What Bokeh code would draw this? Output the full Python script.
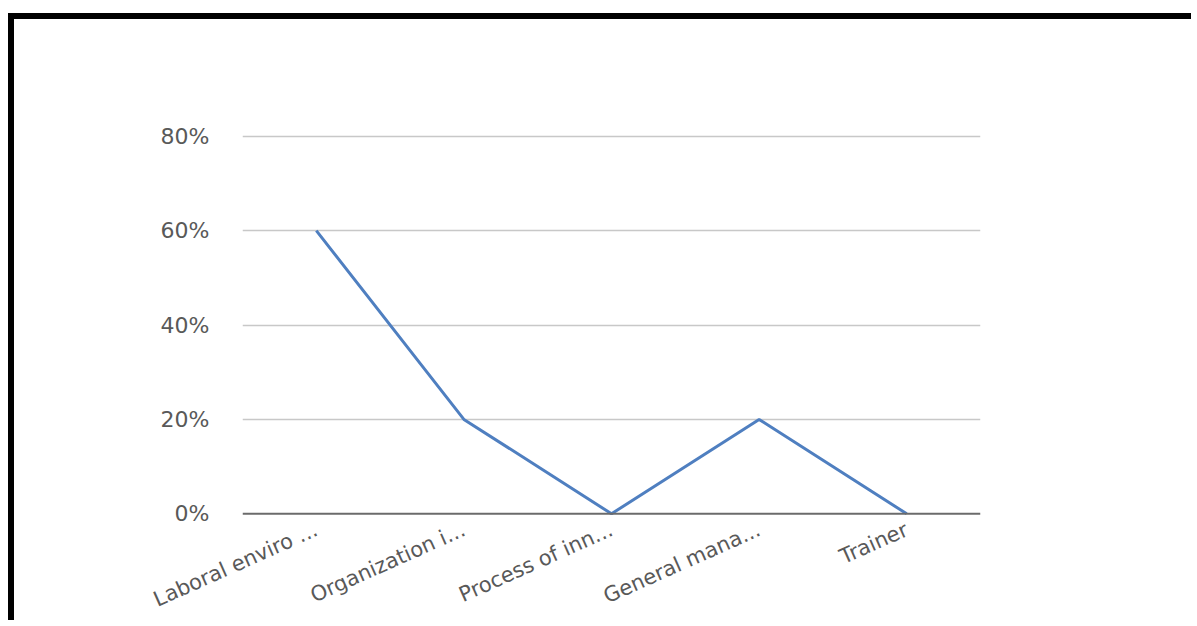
import math
from bokeh.plotting import figure
from bokeh.models import FactorRange, Range1d, NumeralTickFormatter, FixedTicker, Span
from bokeh.embed import file_html
from bokeh.resources import INLINE

categories = ["Laboral enviro ...", "Organization i...", "Process of inn...", "General mana...", "Trainer"]
values = [0.60, 0.20, 0.0, 0.20, 0.0]
y_ticks = [0.0, 0.2, 0.4, 0.6, 0.8]

FONT = "DejaVu Sans"
TEXT_COLOR = "#595959"

p = figure(
    width=1183, height=607,
    x_range=FactorRange(*categories, range_padding=0),
    y_range=Range1d(-0.01, 0.81),
    output_backend="svg", toolbar_location=None,
    min_border_left=228, min_border_right=217,
    min_border_top=112, min_border_bottom=108,
)
p.styles = {
    "border-top": "6px solid black",
    "border-left": "6px solid black",
    "margin-top": "13px",
    "margin-left": "8px",
}
p.outline_line_color = None
p.background_fill_color = "white"
p.border_fill_color = "white"

p.line(x=categories, y=values, line_color="#4f7fc0", line_width=3)

zero = Span(location=0, dimension="width", line_color="#6b6b6b", line_width=2)
p.add_layout(zero)

p.xgrid.grid_line_color = None
p.ygrid.grid_line_color = "#c8c8c8"
p.ygrid.grid_line_width = 1.5
p.ygrid.ticker = FixedTicker(ticks=y_ticks[1:])

p.yaxis.ticker = FixedTicker(ticks=y_ticks)
p.yaxis.formatter = NumeralTickFormatter(format="0%")
p.yaxis.axis_line_color = None
p.yaxis.major_tick_line_color = None
p.yaxis.minor_tick_line_color = None
p.yaxis.major_label_standoff = 27
p.yaxis.major_label_text_font = FONT
p.yaxis.major_label_text_font_size = "22px"
p.yaxis.major_label_text_color = TEXT_COLOR

p.xaxis.axis_line_color = None
p.xaxis.major_tick_line_color = None
p.xaxis.minor_tick_line_color = None
p.xaxis.major_label_orientation = math.radians(24)
p.xaxis.major_label_standoff = 4
p.xaxis.major_label_text_font = FONT
p.xaxis.major_label_text_font_size = "21px"
p.xaxis.major_label_text_color = TEXT_COLOR

open("out.html", "w").write(file_html(p, INLINE))
